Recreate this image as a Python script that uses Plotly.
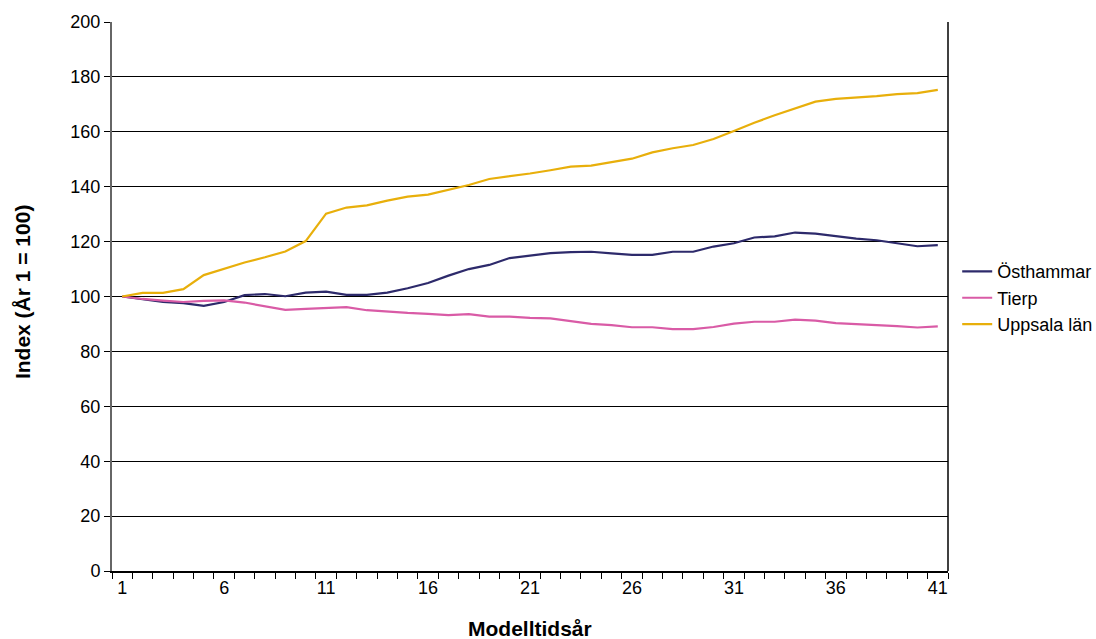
import plotly.graph_objects as go

# Modelltidsår 1..41
years = list(range(1, 42))

osthammar = [100.0, 99.0, 98.0, 97.6, 96.6, 98.0, 100.5, 100.9, 100.1, 101.4,
             101.8, 100.6, 100.6, 101.4, 103.0, 104.9, 107.6, 110.0, 111.5, 114.0,
             114.9, 115.8, 116.2, 116.3, 115.7, 115.2, 115.2, 116.3, 116.3, 118.2,
             119.4, 121.5, 121.9, 123.3, 122.9, 121.9, 121.1, 120.5, 119.4, 118.3,
             118.7]

tierp = [100.0, 99.1, 98.5, 98.0, 98.4, 98.6, 97.8, 96.4, 95.1, 95.5,
         95.9, 96.1, 95.0, 94.4, 94.0, 93.7, 93.2, 93.6, 92.7, 92.7,
         92.2, 92.0, 91.1, 90.0, 89.6, 88.8, 88.8, 88.1, 88.1, 88.9,
         90.1, 90.8, 90.8, 91.6, 91.2, 90.3, 89.9, 89.6, 89.2, 88.7,
         89.1]

uppsala_lan = [100.0, 101.3, 101.3, 102.7, 107.8, 110.1, 112.4, 114.3, 116.4, 120.2,
               130.2, 132.4, 133.2, 134.9, 136.4, 137.1, 138.8, 140.6, 142.8, 143.7,
               144.8, 146.0, 147.3, 147.7, 149.0, 150.2, 152.5, 154.0, 155.2, 157.4,
               160.3, 163.3, 166.0, 168.5, 171.0, 172.0, 172.4, 173.0, 173.7, 174.1,
               175.3]

x_tick_vals = [1, 6, 11, 16, 21, 26, 31, 36, 41]
y_tick_vals = list(range(0, 201, 20))

FONT = "Liberation Sans, Arial, sans-serif"

series = [
    ("Östhammar", osthammar, "#2D2A6B"),
    ("Tierp", tierp, "#D95BA6"),
    ("Uppsala län", uppsala_lan, "#E8AF0B"),
]

fig = go.Figure()
for name, values, color in series:
    fig.add_trace(go.Scatter(
        x=years, y=values, name=name, mode="lines",
        line=dict(color=color, width=2.2),
    ))

fig.update_layout(
    width=1096, height=639,
    margin=dict(l=112, r=148, t=22, b=68, autoexpand=False),
    paper_bgcolor="white", plot_bgcolor="white",
    font=dict(family=FONT, size=18, color="black"),
    showlegend=True,
    legend=dict(
        x=1.011, y=0.497, xanchor="left", yanchor="middle",
        font=dict(size=18), bgcolor="rgba(0,0,0,0)",
        itemwidth=30, tracegroupgap=0,
    ),
    annotations=[
        dict(text="<b>Modelltidsår</b>", xref="paper", yref="paper",
             x=0.5, y=0, xanchor="center", yanchor="middle", yshift=-57,
             showarrow=False, font=dict(size=21)),
        dict(text="<b>Index (År 1 = 100)</b>", xref="paper", yref="paper",
             x=0, y=0.508, xanchor="center", yanchor="middle", xshift=-90,
             textangle=-90, showarrow=False, font=dict(size=21)),
    ],
)

fig.update_xaxes(
    range=[0.5, 41.5], automargin=False,
    tickmode="array", tickvals=x_tick_vals,
    ticks="", showgrid=False, zeroline=False,
    showline=True, linecolor="black", linewidth=1.5,
    mirror=False,
    minor=dict(ticks="outside", tickmode="array",
               tickvals=[i + 0.5 for i in range(0, 42)],
               ticklen=6, tickcolor="black", tickwidth=1, showgrid=False),
    tickfont=dict(size=18),
)

fig.update_yaxes(
    range=[0, 200], automargin=False,
    tickmode="array", tickvals=y_tick_vals,
    ticks="outside", ticklen=6, tickcolor="black", tickwidth=1,
    showgrid=True, gridcolor="black", gridwidth=1,
    zeroline=False,
    showline=True, linecolor="#666666", linewidth=2,
    tickfont=dict(size=18),
)

# right-hand frame of the plot area
fig.add_shape(type="line", xref="paper", yref="paper",
              x0=1, x1=1, y0=0, y1=1,
              line=dict(color="black", width=1.5))

fig.write_html("out.html")
